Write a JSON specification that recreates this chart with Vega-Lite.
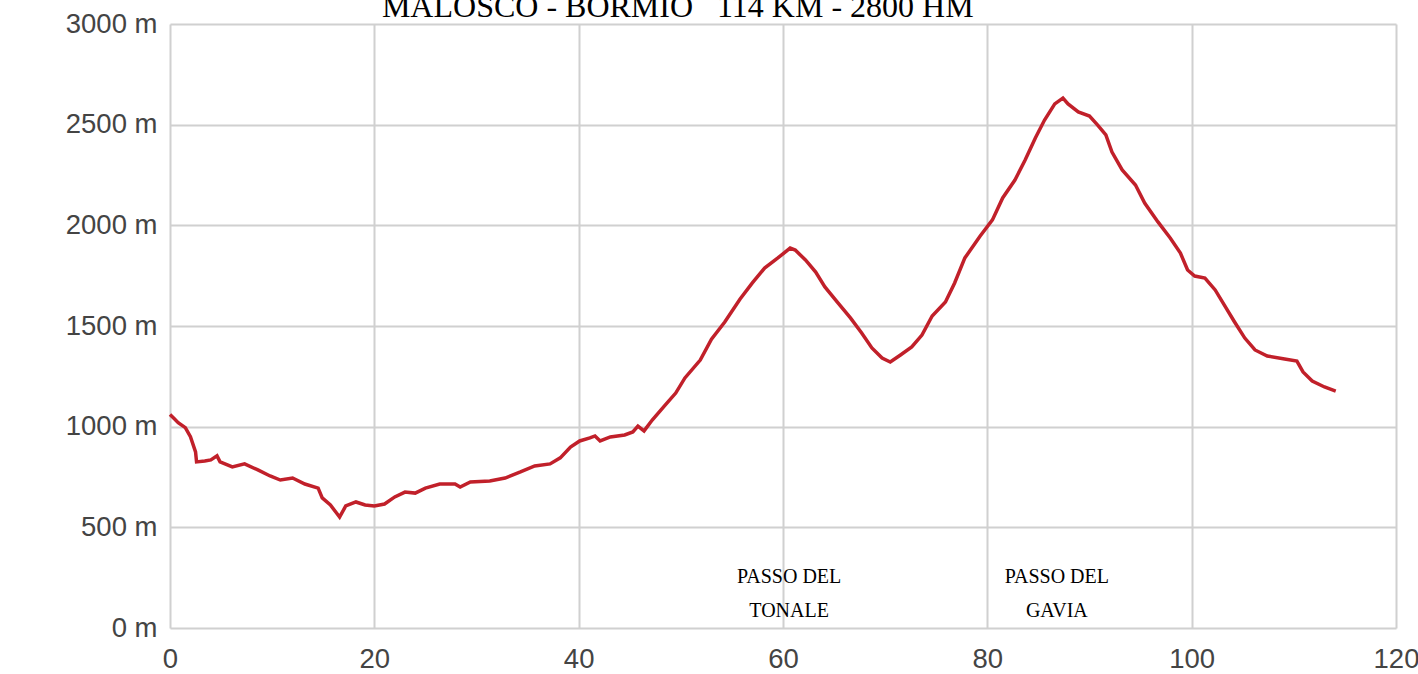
{
  "$schema": "https://vega.github.io/schema/vega-lite/v6.json",
  "autosize": "none",
  "width": 1226,
  "height": 604,
  "padding": {"left": 170, "top": 24, "right": 22, "bottom": 46},
  "background": "white",
  "config": {
    "view": {"stroke": null},
    "axis": {
      "labelFont": "Liberation Sans",
      "labelFontSize": 27.5,
      "labelColor": "#444444",
      "gridColor": "#d0d0d0",
      "gridWidth": 2,
      "domain": false,
      "ticks": false,
      "title": null
    }
  },
  "datasets": {
    "profile": [
      {"km": 0, "elev": 1060},
      {"km": 0.4, "elev": 1040},
      {"km": 0.8, "elev": 1020},
      {"km": 1.5, "elev": 995},
      {"km": 2.0, "elev": 950},
      {"km": 2.5, "elev": 875},
      {"km": 2.6, "elev": 825},
      {"km": 3.4, "elev": 830},
      {"km": 4.0, "elev": 835},
      {"km": 4.6, "elev": 855},
      {"km": 4.9, "elev": 825},
      {"km": 6.1, "elev": 800},
      {"km": 7.3, "elev": 815},
      {"km": 8.6, "elev": 785},
      {"km": 9.8, "elev": 755},
      {"km": 10.8, "elev": 735},
      {"km": 12.0, "elev": 745},
      {"km": 13.2, "elev": 715},
      {"km": 14.5, "elev": 695},
      {"km": 14.9, "elev": 646},
      {"km": 15.7, "elev": 611},
      {"km": 16.3, "elev": 571},
      {"km": 16.6, "elev": 551},
      {"km": 17.2, "elev": 606},
      {"km": 18.2, "elev": 626},
      {"km": 19.1, "elev": 611},
      {"km": 20.0, "elev": 606},
      {"km": 21.0, "elev": 616},
      {"km": 22.0, "elev": 651},
      {"km": 23.0, "elev": 675},
      {"km": 24.0, "elev": 670},
      {"km": 25.0, "elev": 695},
      {"km": 26.4, "elev": 715},
      {"km": 27.9, "elev": 715},
      {"km": 28.4, "elev": 700},
      {"km": 29.4, "elev": 725},
      {"km": 31.3, "elev": 730},
      {"km": 32.8, "elev": 745},
      {"km": 34.3, "elev": 775},
      {"km": 35.7, "elev": 805},
      {"km": 37.2, "elev": 815},
      {"km": 38.2, "elev": 845},
      {"km": 39.2, "elev": 899},
      {"km": 40.1, "elev": 929},
      {"km": 41.1, "elev": 944},
      {"km": 41.6, "elev": 954},
      {"km": 42.1, "elev": 929},
      {"km": 43.1, "elev": 949},
      {"km": 44.5, "elev": 959},
      {"km": 45.3, "elev": 974},
      {"km": 45.8, "elev": 1003},
      {"km": 46.4, "elev": 979},
      {"km": 47.2, "elev": 1033},
      {"km": 48.4, "elev": 1103},
      {"km": 49.5, "elev": 1167},
      {"km": 50.4, "elev": 1242},
      {"km": 51.9, "elev": 1331},
      {"km": 53.0, "elev": 1435},
      {"km": 54.3, "elev": 1520},
      {"km": 55.8, "elev": 1634},
      {"km": 57.0, "elev": 1714},
      {"km": 58.2, "elev": 1788},
      {"km": 59.5, "elev": 1838},
      {"km": 60.7, "elev": 1887},
      {"km": 61.2, "elev": 1877},
      {"km": 62.2, "elev": 1828},
      {"km": 63.2, "elev": 1768},
      {"km": 64.1, "elev": 1694},
      {"km": 65.4, "elev": 1614},
      {"km": 66.6, "elev": 1540},
      {"km": 67.7, "elev": 1465},
      {"km": 68.7, "elev": 1391},
      {"km": 69.7, "elev": 1341},
      {"km": 70.5, "elev": 1321},
      {"km": 71.5, "elev": 1356},
      {"km": 72.6, "elev": 1396},
      {"km": 73.6, "elev": 1455},
      {"km": 74.6, "elev": 1550},
      {"km": 75.9, "elev": 1619},
      {"km": 76.8, "elev": 1714},
      {"km": 77.8, "elev": 1838},
      {"km": 79.3, "elev": 1947},
      {"km": 80.5, "elev": 2027},
      {"km": 81.5, "elev": 2136},
      {"km": 82.7, "elev": 2225},
      {"km": 83.7, "elev": 2324},
      {"km": 84.7, "elev": 2434},
      {"km": 85.6, "elev": 2523},
      {"km": 86.6, "elev": 2603},
      {"km": 87.4, "elev": 2632},
      {"km": 87.9, "elev": 2603},
      {"km": 88.9, "elev": 2563},
      {"km": 90.0, "elev": 2543},
      {"km": 90.8, "elev": 2498},
      {"km": 91.6, "elev": 2449},
      {"km": 92.2, "elev": 2364},
      {"km": 93.2, "elev": 2275},
      {"km": 94.5, "elev": 2200},
      {"km": 95.4, "elev": 2111},
      {"km": 96.7, "elev": 2017},
      {"km": 97.9, "elev": 1937},
      {"km": 98.9, "elev": 1862},
      {"km": 99.6, "elev": 1778},
      {"km": 100.3, "elev": 1748},
      {"km": 101.3, "elev": 1738},
      {"km": 102.3, "elev": 1679},
      {"km": 103.2, "elev": 1604},
      {"km": 104.2, "elev": 1520},
      {"km": 105.2, "elev": 1440},
      {"km": 106.2, "elev": 1381},
      {"km": 107.4, "elev": 1351},
      {"km": 109.1, "elev": 1336},
      {"km": 110.3, "elev": 1326},
      {"km": 110.9, "elev": 1272},
      {"km": 111.8, "elev": 1227},
      {"km": 113.0, "elev": 1197},
      {"km": 114.1, "elev": 1177}
    ],
    "passes": [
      {"km": 60.6, "elev": 224, "label": ["PASSO DEL", "TONALE"]},
      {"km": 86.8, "elev": 224, "label": ["PASSO DEL", "GAVIA"]}
    ],
    "heading": [
      {"km": 49.7, "elev": 3035, "label": "MALOSCO - BORMIO \u00a0 114 KM - 2800 HM"}
    ]
  },
  "layer": [
    {
      "data": {"name": "profile"},
      "mark": {"type": "line", "color": "#c1202a", "strokeWidth": 3.5, "interpolate": "linear"},
      "encoding": {
        "x": {
          "field": "km", "type": "quantitative",
          "scale": {"domain": [0, 120], "nice": false, "zero": true},
          "axis": {"values": [0, 20, 40, 60, 80, 100, 120], "labelPadding": 17, "labelFlush": false}
        },
        "y": {
          "field": "elev", "type": "quantitative",
          "scale": {"domain": [0, 3000], "nice": false},
          "axis": {"values": [0, 500, 1000, 1500, 2000, 2500, 3000], "labelExpr": "datum.value + ' m'", "labelPadding": 13}
        }
      }
    },
    {
      "data": {"name": "passes"},
      "mark": {"type": "text", "font": "Liberation Serif", "fontSize": 20, "color": "#000000", "baseline": "alphabetic", "align": "center", "lineHeight": 34},
      "encoding": {
        "x": {"field": "km", "type": "quantitative"},
        "y": {"field": "elev", "type": "quantitative"},
        "text": {"field": "label"}
      }
    },
    {
      "data": {"name": "heading"},
      "mark": {"type": "text", "font": "Liberation Serif", "fontSize": 32, "color": "#000000", "baseline": "alphabetic", "align": "center", "clip": false},
      "encoding": {
        "x": {"field": "km", "type": "quantitative"},
        "y": {"field": "elev", "type": "quantitative"},
        "text": {"field": "label"}
      }
    }
  ]
}
